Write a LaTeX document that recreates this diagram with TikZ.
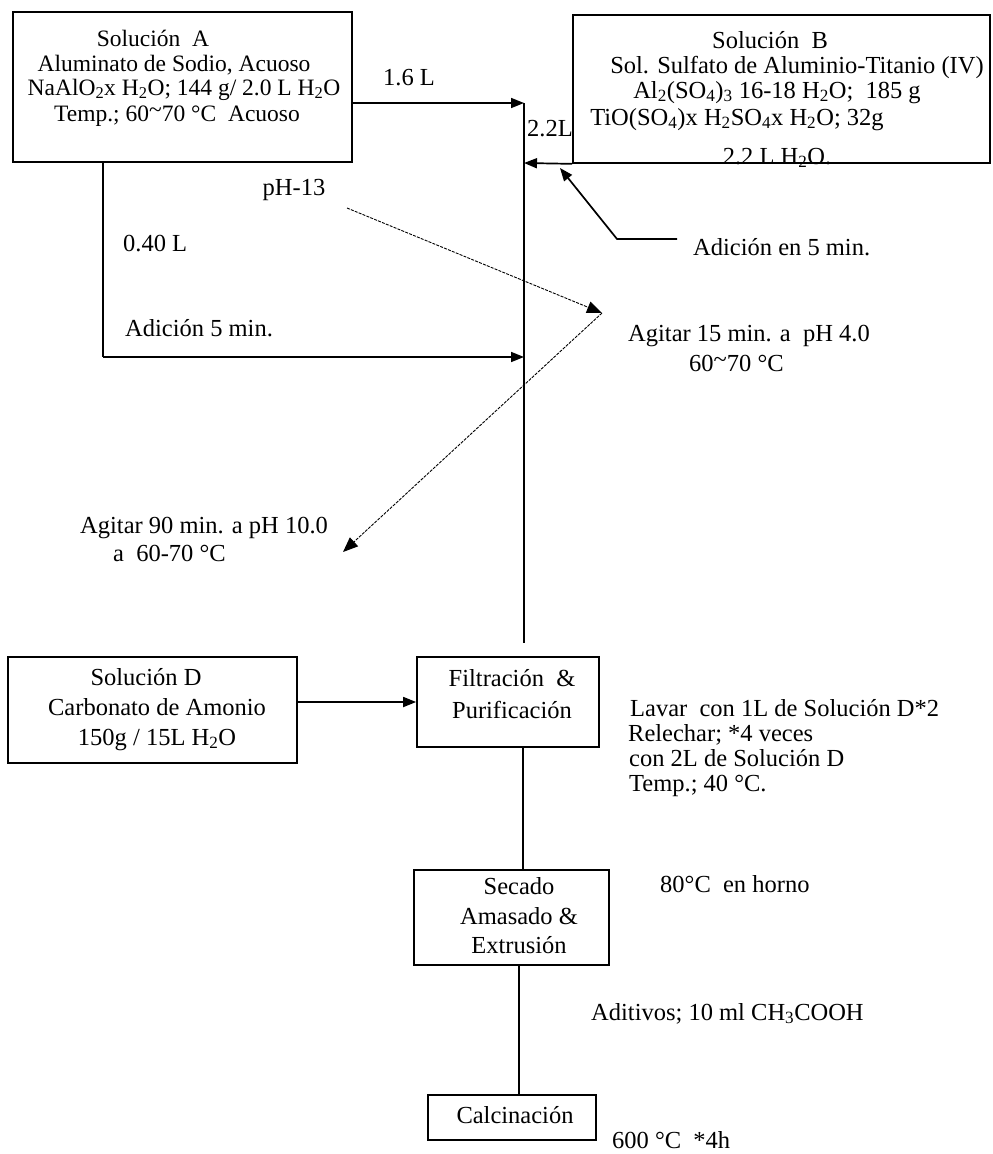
\documentclass[tikz,border=0pt]{standalone}
\usepackage{fontspec}
\setmainfont{Liberation Serif}
\usetikzlibrary{arrows.meta}
\newcommand{\sbs}[1]{\textsubscript{#1}}
\newcommand{\tld}{\raisebox{0.15em}{\textasciitilde}}
\begin{document}
\begin{tikzpicture}[x=1pt,y=-1pt,
  box/.style={draw,line width=1.7pt,inner sep=0pt},
  lbl/.style={inner sep=0pt,font=\fontsize{24.5}{25}\selectfont},
  albl/.style={inner sep=0pt,font=\fontsize{23.5}{25}\selectfont},
  ln/.style={line width=1.7pt},
  arr/.style={line width=1.7pt,-{Triangle[length=13pt,width=10pt]}},
  darr/.style={line width=0.9pt,dash pattern=on 3pt off 1.2pt,-{Triangle[length=15pt,width=12pt]}}]
\useasboundingbox (0,0) rectangle (993,1154);
% boxes
\node[box,minimum width=339pt,minimum height=150pt] (A) at (182.5,87) {};
\node[box,minimum width=417pt,minimum height=148pt] (B) at (781.5,89) {};
\node[box,minimum width=289pt,minimum height=106pt] (D) at (152.5,710) {};
\node[box,minimum width=182pt,minimum height=90pt] (F) at (508,702) {};
\node[box,minimum width=195pt,minimum height=95pt] (S) at (511.5,917.5) {};
\node[box,minimum width=168pt,minimum height=45pt] (C) at (512,1117.5) {};
% box texts
\node[albl,anchor=base] (a1) at (153,46) {Solución\ \ A};
\node[albl,anchor=base] (a2) at (174,71) {Aluminato de Sodio, Acuoso};
\node[albl,anchor=base] (a3) at (184,95) {NaAlO\sbs{2}x H\sbs{2}O; 144 g/ 2.0 L H\sbs{2}O};
\node[albl,anchor=base] (a4) at (177,121) {Temp.; 60\tld70 °C\ \ Acuoso};
\node[lbl,anchor=base] (b1) at (770,48) {Solución\ \ B};
\node[lbl,anchor=base] (b2) at (797,73) {Sol. Sulfato de Aluminio-Titanio (IV)};
\node[lbl,anchor=base] (b3) at (777,98) {Al\sbs{2}(SO\sbs{4})\sbs{3} 16-18 H\sbs{2}O;\ \ 185 g};
\node[lbl,anchor=base] (b4) at (737,125) {TiO(SO\sbs{4})x H\sbs{2}SO\sbs{4}x H\sbs{2}O; 32g};
\node[lbl,anchor=base] (b5) at (777,164) {2.2 L H\sbs{2}O.};
\node[lbl,anchor=base] (d1) at (146,685) {Solución D};
\node[lbl,anchor=base] (d2) at (157,715) {Carbonato de Amonio};
\node[lbl,anchor=base] (d3) at (157,745) {150g / 15L H\sbs{2}O};
\node[lbl,anchor=base] (f1) at (512,686) {Filtración\ \ \&};
\node[lbl,anchor=base] (f2) at (512,718) {Purificación};
\node[lbl,anchor=base] (s1) at (519,894) {Secado};
\node[lbl,anchor=base] (s2) at (519,924) {Amasado \&};
\node[lbl,anchor=base] (s3) at (519,953) {Extrusión};
\node[lbl,anchor=base] (c1) at (515,1123) {Calcinación};
% free labels
\node[lbl,anchor=base west] (l16) at (383,85) {1.6 L};
\node[lbl,anchor=base west] (l22) at (527,136) {2.2L};
\node[lbl,anchor=base] (ph13) at (294,195) {pH-13};
\node[lbl,anchor=base west] (l040) at (123,251) {0.40 L};
\node[lbl,anchor=base west] (ad5) at (125,336) {Adición 5 min.};
\node[lbl,anchor=base west] (aden) at (693,255) {Adición en 5 min.};
\node[lbl,anchor=base west] (ag15) at (628,341) {Agitar 15 min. a\ \ pH 4.0};
\node[lbl,anchor=base west] (ag15b) at (689,371) {60\tld70 °C};
\node[lbl,anchor=base west] (ag90) at (80,533) {Agitar 90 min. a pH 10.0};
\node[lbl,anchor=base west] (ag90b) at (113,561) {a\ \ 60-70 °C};
\node[lbl,anchor=base west] (lv1) at (630,716) {Lavar\ \ con 1L de Solución D*2};
\node[lbl,anchor=base west] (lv2) at (628,741) {Relechar; *4 veces};
\node[lbl,anchor=base west] (lv3) at (629,766) {con 2L de Solución D};
\node[lbl,anchor=base west] (lv4) at (629,791) {Temp.; 40 °C.};
\node[lbl,anchor=base west] (hor) at (660,892) {80°C\ \ en horno};
\node[lbl,anchor=base west] (adit) at (591,1020) {Aditivos; 10 ml CH\sbs{3}COOH};
\node[lbl,anchor=base west] (t600) at (612,1148) {600 °C\ \ *4h};
% junction coordinates
\coordinate (jtop) at (524,103);
\coordinate (jB) at (524,163);
\coordinate (jL) at (524,357);
\coordinate (jbot) at (524,643);
\coordinate (cornL) at (103,357);
\coordinate (mx) at (523,0);
\coordinate (mx2) at (519,0);
\coordinate (h1) at (677,239);
\coordinate (h2) at (617,239);
\coordinate (htip) at (560,168);
\coordinate (dp1) at (347,208);
\coordinate (dtip) at (602,313);
\coordinate (dtip2) at (343,552);
% main line and connectors
\draw[ln] (jtop) -- (jbot);
\draw[arr] (A.east |- jtop) -- (jtop);
\draw[arr] (B.south west) -- (jB);
\draw[ln] (A.south -| cornL) -- (cornL);
\draw[arr] (cornL) -- (jL);
\draw[arr] (h1) -- (h2) -- (htip);
\draw[darr] (dp1) -- (dtip);
\draw[darr] (dtip) -- (dtip2);
\draw[arr] (D.east |- F.west) -- (F.west);
\draw[ln] (F.south -| mx) -- (S.north -| mx);
\draw[ln] (S.south -| mx2) -- (C.north -| mx2);
\end{tikzpicture}
\end{document}
